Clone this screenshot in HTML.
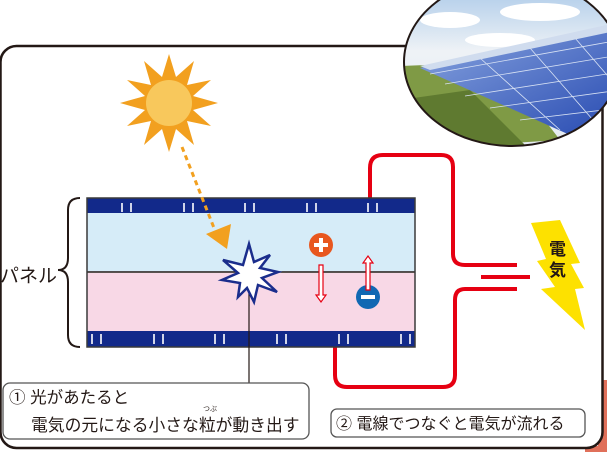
<!DOCTYPE html>
<html><head><meta charset="utf-8"><style>
html,body{margin:0;padding:0;background:#fff;}
svg{display:block;}
text{font-family:"Liberation Sans","Noto Sans CJK JP",sans-serif;}
</style></head><body>
<svg width="607" height="452" viewBox="0 0 607 452" xmlns="http://www.w3.org/2000/svg">
<defs>
<clipPath id="ph"><ellipse cx="512" cy="62" rx="108" ry="84"/></clipPath>
<linearGradient id="sky" x1="0" y1="0" x2="0" y2="1"><stop offset="0" stop-color="#9cc0e6"/><stop offset="0.45" stop-color="#eef2f6"/><stop offset="1" stop-color="#e4eaf0"/></linearGradient>
<linearGradient id="pv" x1="0" y1="0" x2="1" y2="1"><stop offset="0" stop-color="#8aa6e0"/><stop offset="1" stop-color="#2548b0"/></linearGradient>
</defs>
<rect x="598" y="380" width="9" height="72" fill="#e0705a"/>
<rect x="585" y="446" width="22" height="6" fill="#e0705a"/>
<rect x="0.5" y="46" width="602" height="402" rx="16" fill="#fff" stroke="#231815" stroke-width="2.5"/>
<!-- photo -->
<g clip-path="url(#ph)">
<rect x="400" y="-30" width="230" height="180" fill="url(#sky)"/>
<ellipse cx="450" cy="20" rx="30" ry="8" fill="#fff"/>
<ellipse cx="540" cy="12" rx="40" ry="9" fill="#fff"/>
<ellipse cx="500" cy="40" rx="35" ry="7" fill="#fff"/>
<polygon points="400,66 500,62 560,140 400,150" fill="#7f9a45"/>
<polygon points="400,100 470,90 530,150 400,150" fill="#5f7a30"/>
<polygon points="420,68 620,28 620,140 570,135" fill="url(#pv)"/>
<g stroke="#d8e2f4" stroke-width="0.8" fill="none">
<path d="M430,74 L620,40M445,84 L620,55M465,96 L620,72M490,108 L620,90M520,120 L620,108"/>
<path d="M480,58 L560,130M530,48 L600,128M575,38 L620,90"/>
</g>
<polygon points="420,66 620,22 620,30 430,70" fill="#d0dcee"/>
</g>
<ellipse cx="512" cy="62" rx="108" ry="84" fill="none" stroke="#231815" stroke-width="2"/>
<!-- sun -->
<polygon fill="#f2a01f" points="169,54 176,77 194,61 187,85 211,80 193,96 218,103 193,110 211,126 187,121 194,145 176,129 169,152 162,129 144,145 151,121 127,126 145,110 120,103 145,96 127,80 151,85 144,61 162,77"/>
<circle cx="169" cy="103" r="23" fill="#f8c85c"/>
<!-- red wire -->
<g fill="none" stroke="#e60012" stroke-width="4">
<path d="M370,199 V168 Q370,155 383,155 H441 Q453,155 453,167 V254 Q453,265 465,265 H517"/>
<path d="M517,289 H465 Q455,289 455,300 V375 Q455,387 443,387 H347 Q335,387 335,375 V347"/>
<path d="M481,277 H530"/>
</g>
<!-- panel -->
<rect x="87" y="213" width="328" height="59" fill="#d6ecf8"/>
<rect x="87" y="273" width="328" height="58" fill="#f8d8e6"/>
<line x1="87" y1="272" x2="415" y2="272" stroke="#231815" stroke-width="1.5"/>
<rect x="87" y="198" width="328" height="15" fill="#12298a"/>
<rect x="87" y="331" width="328" height="16" fill="#12298a"/>
<rect x="87" y="198" width="328" height="149" fill="none" stroke="#3a3a3a" stroke-width="1.5"/>
<g stroke="#fff" stroke-width="1.6">
<path d="M122,203v9M131,203v9M184,203v9M193,203v9M245,203v9M254,203v9M307,203v9M316,203v9M368,203v9M377,203v9"/>
<path d="M92,334v10M101,334v10M154,334v10M163,334v10M215,334v10M224,334v10M277,334v10M286,334v10M339,334v10M348,334v10M401,334v10M410,334v10"/>
</g>
<line x1="182" y1="147" x2="214" y2="228" stroke="#f2a01f" stroke-width="3" stroke-dasharray="5,4"/>
<polygon points="206,234 231,224 227,249" fill="#f2a01f"/>
<line x1="249" y1="275" x2="249" y2="383" stroke="#231815" stroke-width="1.2"/>
<polygon points="249,244 254,262 270,255 260,268 278,272 262,278 277,292 258,285 254,302 247,288 238,297 240,283 222,280 238,273 223,260 243,265" fill="#fff" stroke="#1a2d8c" stroke-width="2.5"/>
<!-- brace -->
<path d="M80,198 Q68,198 68,210 V258 Q68,270 58,270 Q68,270 68,282 V335 Q68,347 80,347" fill="none" stroke="#231815" stroke-width="2"/>
<text x="0" y="282" font-size="19" fill="#231815">パネル</text>
<!-- plus minus -->
<circle cx="321" cy="245" r="12" fill="#e8571f"/>
<path d="M314,245h14M321,238v14" stroke="#fff" stroke-width="4"/>
<circle cx="368" cy="297" r="12" fill="#1168b3"/>
<path d="M361,297h14" stroke="#fff" stroke-width="4"/>
<path d="M319,265h4v30h3l-5,7l-5,-7h3z" fill="#fff" stroke="#e60012" stroke-width="1.2"/>
<path d="M366,290h4v-27h3l-5,-7l-5,7h3z" fill="#fff" stroke="#e60012" stroke-width="1.2"/>
<!-- lightning -->
<polygon points="531,223 560,220 580,263 571,264 584,288 575,289 585,330 541,289 555,287 537,261 546,259" fill="#fde100"/>
<text x="549" y="255" font-size="17" font-weight="bold" fill="#231815">電</text>
<text x="549" y="276" font-size="17" font-weight="bold" fill="#231815">気</text>
<!-- boxes -->
<rect x="3" y="383" width="306" height="56" rx="7" fill="#fff" stroke="#555" stroke-width="1.3"/>
<text x="9" y="403" font-size="16.5" fill="#231815">① 光があたると</text>
<text x="31" y="431" font-size="16.8" fill="#231815">電気の元になる小さな粒が動き出す</text>
<text x="203" y="411" font-size="7" fill="#231815">つぶ</text>
<rect x="331" y="409" width="254" height="28" rx="6" fill="#fff" stroke="#555" stroke-width="1.3"/>
<text x="336" y="429" font-size="16" fill="#231815">② 電線でつなぐと電気が流れる</text>
</svg>
</body></html>
